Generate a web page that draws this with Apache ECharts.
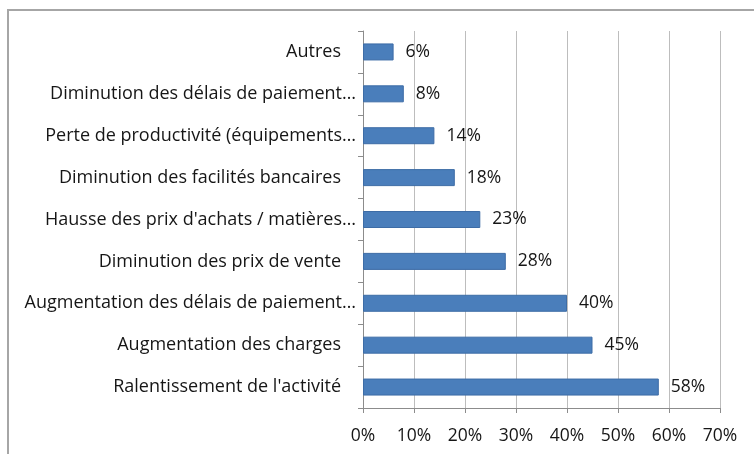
<!DOCTYPE html>
<html>
<head>
<meta charset="utf-8">
<script src="https://cdn.jsdelivr.net/npm/echarts@6/dist/echarts.min.js"></script>
<style>
  html, body { margin: 0; padding: 0; background: #fff; }
  #frame { position: absolute; left: 7px; top: 9px; width: 760px; height: 460px;
           border-left: 2px solid #a6a6a6; border-top: 2px solid #a6a6a6; }
  #chart { position: absolute; left: 0; top: 0; width: 754px; height: 454px; }
</style>
</head>
<body>
<div id="frame"></div>
<div id="chart"></div>
<script>
// bottom to top, as drawn
const categories = [
  "Ralentissement de l'activité",
  'Augmentation des charges',
  'Augmentation des délais de paiement…',
  'Diminution des prix de vente',
  "Hausse des prix d'achats / matières…",
  'Diminution des facilités bancaires',
  'Perte de productivité (équipements…',
  'Diminution des délais de paiement…',
  'Autres'
]
const values = [58, 45, 40, 28, 23, 18, 14, 8, 6]
const xTicks = [0, 10, 20, 30, 40, 50, 60, 70]

const font = '"Open Sans", Lato, sans-serif'
const textColor = '#161616'
const chart = echarts.init(document.getElementById('chart'), null, { renderer: 'canvas' })

// labels that are not cut off sit a little further from the axis
const catLabel = (v) => v.endsWith('…') ? '{t|' + v + '}' : '{p|' + v + '}'

chart.setOption({
  animation: false,
  backgroundColor: 'transparent',
  grid: { left: 363, right: 34, top: 31, bottom: 46 },
  xAxis: {
    type: 'value',
    min: xTicks[0],
    max: xTicks[xTicks.length - 1],
    interval: 10,
    axisLine: { show: true, lineStyle: { color: '#8c8c8c', width: 1 } },
    axisTick: { show: true, length: 5, lineStyle: { color: '#8c8c8c' } },
    axisLabel: { formatter: '{value}%', color: textColor, fontFamily: font, fontSize: 17.5, margin: 19 },
    splitLine: { show: true, lineStyle: { color: '#bdbdbd', width: 1 } }
  },
  yAxis: {
    type: 'category',
    data: categories,
    axisLine: { show: true, lineStyle: { color: '#8c8c8c', width: 1 } },
    axisTick: { show: true, length: 5, lineStyle: { color: '#8c8c8c' } },
    axisLabel: {
      formatter: catLabel,
      margin: 7,
      rich: {
        t: { color: textColor, fontFamily: font, fontSize: 18 },
        p: { color: textColor, fontFamily: font, fontSize: 18, padding: [0, 15, 0, 0] }
      }
    }
  },
  series: [{
    type: 'bar',
    data: values,
    barWidth: 17,
    itemStyle: { color: '#4a7ebb', borderColor: '#3d6ca6', borderWidth: 1 },
    label: {
      show: true,
      position: 'right',
      distance: 12,
      formatter: '{c}%',
      color: textColor,
      fontFamily: font,
      fontSize: 17.5
    }
  }]
})
</script>
</body>
</html>
